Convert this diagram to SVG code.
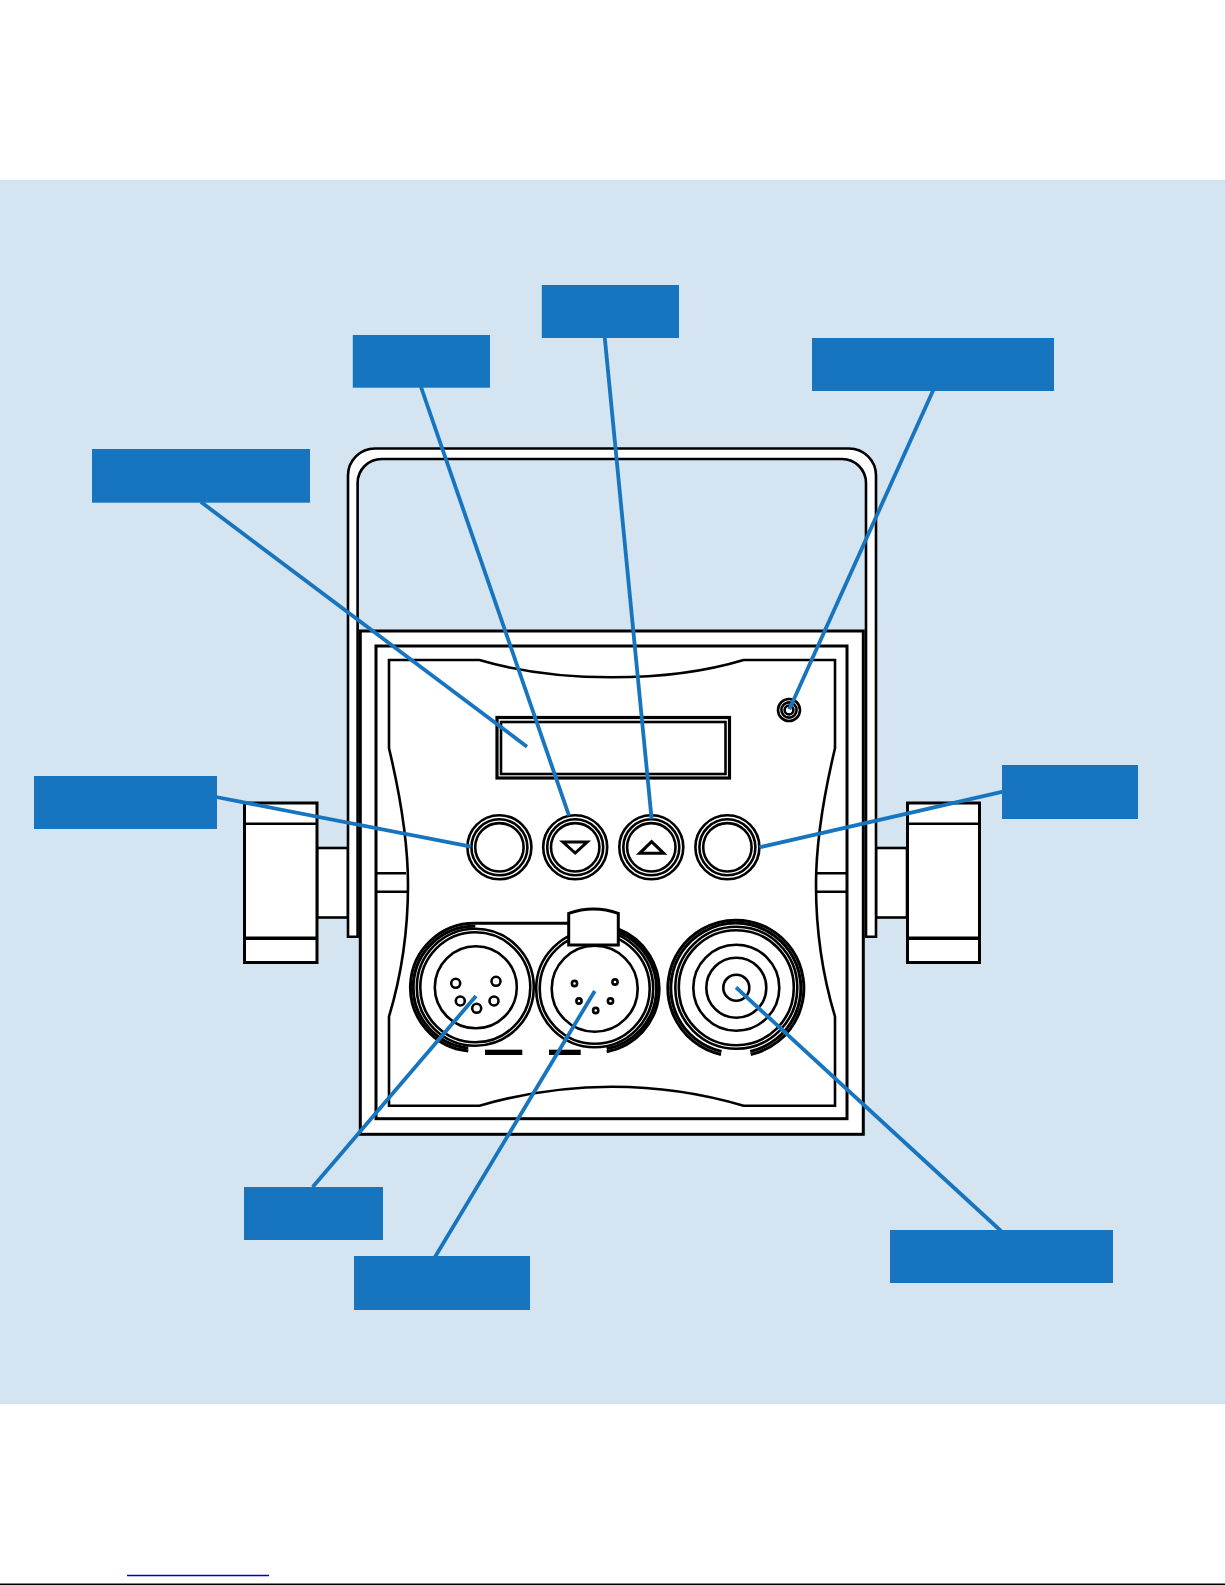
<svg xmlns="http://www.w3.org/2000/svg" width="1225" height="1585" viewBox="0 0 1225 1585">
<style>
.k{fill:none;stroke:#000;stroke-width:2.6}
.w{fill:#fff;stroke:#000;stroke-width:3}
.t{fill:none;stroke:#000;stroke-width:3}
.box{fill:#1675be}
.c{fill:none;stroke:#1675be;stroke-width:3.8}
</style>
<defs>
<g id="btn"><circle r="32" class="w" style="stroke-width:2.6"/><circle r="28" class="k"/><circle r="24.2" class="k"/></g>
</defs>
<rect width="1225" height="1585" fill="#fff"/>
<rect x="0" y="180" width="1225" height="1224" fill="#d4e4f1"/>
<g id="clamp-left">
<rect x="317" y="848" width="31" height="69.5" class="k" style="fill:#fff"/>
<rect x="244.5" y="803" width="72.5" height="159.5" class="w"/>
<path d="M245 823.7H317" class="k"/><path d="M245 938.3H317" class="t" style="stroke-width:3.4"/>
</g>
<g id="clamp-right">
<rect x="876" y="848" width="31" height="69.5" class="k" style="fill:#fff"/>
<rect x="907.5" y="803" width="72" height="159.5" class="w"/>
<path d="M907.5 823.7H979" class="k"/><path d="M907.5 938.3H979" class="t" style="stroke-width:3.4"/>
</g>
<g id="handle">
<path d="M348 936.7V475.5A27 27 0 0 1 375 448.5H849A27 27 0 0 1 876 475.5V936.7H866V483A24 24 0 0 0 842 459H381.6A24 24 0 0 0 357.6 483V936.7Z" fill="#fff" stroke="#000" stroke-width="2.6"/>
</g>
<g id="panel">
<rect x="360.3" y="631" width="503" height="503.3" class="w"/>
<rect x="376" y="646" width="471" height="472.7" class="w"/>
<path d="M376 873.3H406M376 891.7H408M817 873.3H847M816 891.7H847" class="k"/>
<path d="M389 660H479.5C520 672 565 677.3 612 677.3C659 677.3 704 672 743.6 660H835V748.3C825 790 816 840 816 885C816 940 824 980 835 1016.7V1105.7H743.6C704 1094 659 1086.7 612 1086.7C565 1086.7 520 1094 479.5 1105.7H389V1016.7C400 980 408 940 408 885C408 840 399 790 389 748.3Z" class="k"/>
</g>
<g id="display">
<rect x="497" y="717.5" width="232.5" height="60.5" class="t" style="stroke-width:3.2"/>
<rect x="501" y="722" width="224.5" height="52" class="k"/>
</g>
<g id="led">
<circle cx="789" cy="710" r="11" class="k"/><circle cx="789" cy="710" r="7.6" class="k"/><circle cx="789" cy="710" r="4.4" class="k"/>
</g>
<g id="button-1"><use href="#btn" x="499.4" y="847.3"/></g>
<g id="button-down"><use href="#btn" x="575.2" y="847.3"/><path d="M563 842H587.2L575.2 853Z" class="t"/></g>
<g id="button-up"><use href="#btn" x="651.3" y="847.3"/><path d="M639.6 853.3H663.7L651.6 841.7Z" class="t"/></g>
<g id="button-4"><use href="#btn" x="727.4" y="847.3"/></g>
<g id="xlr-in">
<path d="M468.3 1051A64 64 0 0 1 475.3 923.3H569" class="t"/>
<path d="M468.3 1048A61 61 0 0 1 475.3 926.3" class="t"/>
<circle cx="475.3" cy="987.3" r="58.5" class="k"/><circle cx="475.3" cy="987.3" r="55" class="k"/>
<circle cx="475.8" cy="987.3" r="41" class="k"/>
<circle cx="455.7" cy="983.3" r="4.5" class="k"/><circle cx="496" cy="981.3" r="4.5" class="k"/><circle cx="460.3" cy="1001" r="4.5" class="k"/><circle cx="494" cy="1001" r="4.5" class="k"/><circle cx="476.7" cy="1008.3" r="4.5" class="k"/>
</g>
<g id="xlr-out">
<path d="M606.7 1051.7A64 64 0 0 0 618 929" class="t"/>
<path d="M606.7 1048.7A61 61 0 0 0 618 932" class="t"/>
<circle cx="594.7" cy="988.7" r="58.5" class="k"/><circle cx="594.7" cy="988.7" r="55" class="k"/>
<circle cx="594.7" cy="988.7" r="43" class="k"/>
<circle cx="574.5" cy="983.5" r="2.6" class="k"/><circle cx="615" cy="982" r="2.6" class="k"/><circle cx="579" cy="1001" r="2.6" class="k"/><circle cx="610.5" cy="1001" r="2.6" class="k"/><circle cx="595.7" cy="1010.5" r="2.6" class="k"/>
<path d="M568.7 913.3Q593.5 904.5 618.3 913.3V945H568.7Z" class="w"/>
<rect x="485" y="1049.7" width="37.3" height="5.3"/>
<rect x="549" y="1049.7" width="31.7" height="5.3"/>
</g>
<g id="power">
<path d="M721 1054.5A68 68 0 1 1 750.7 1054.5" class="t"/>
<path d="M721.5 1051.5A65 65 0 1 1 750.2 1051.5" class="t"/>
<circle cx="736.3" cy="987.7" r="61" class="k"/><circle cx="736.3" cy="987.7" r="57.5" class="k"/>
<circle cx="736.3" cy="987.7" r="43" class="k"/><circle cx="736.3" cy="987.7" r="30" class="k"/><circle cx="736.3" cy="987.7" r="13" class="k"/>
</g>
<g id="connectors">
<path d="M201 502L527 746.7" class="c"/>
<path d="M421 387L569 815.7" class="c"/>
<path d="M604.7 337L651.6 819" class="c"/>
<path d="M933.3 390L789.4 709.3" class="c"/>
<path d="M216 797L470.9 846.7" class="c"/>
<path d="M1003 791.7L759.4 847.3" class="c"/>
<path d="M312.7 1187L476 996" class="c"/>
<path d="M435 1257L594.8 991" class="c"/>
<path d="M1001 1231L736 987.3" class="c"/>
</g>
<g id="label-display"><rect x="92" y="449" width="218" height="53.7" class="box"/></g>
<g id="label-down"><rect x="352.8" y="335" width="137.2" height="52.7" class="box"/></g>
<g id="label-up"><rect x="541.8" y="285" width="137.2" height="53" class="box"/></g>
<g id="label-led"><rect x="812" y="338" width="242" height="53" class="box"/></g>
<g id="label-left"><rect x="34" y="776" width="183" height="53" class="box"/></g>
<g id="label-right"><rect x="1002" y="765" width="136" height="54" class="box"/></g>
<g id="label-in"><rect x="244" y="1187" width="139" height="53" class="box"/></g>
<g id="label-out"><rect x="354" y="1256" width="176" height="54" class="box"/></g>
<g id="label-power"><rect x="890" y="1230" width="223" height="53" class="box"/></g>
<path d="M127 1575.5H269" stroke="#0000cc" stroke-width="1.5" fill="none"/>
<path d="M0 1584.3H1225" stroke="#000" stroke-width="1.5" fill="none"/>
</svg>
